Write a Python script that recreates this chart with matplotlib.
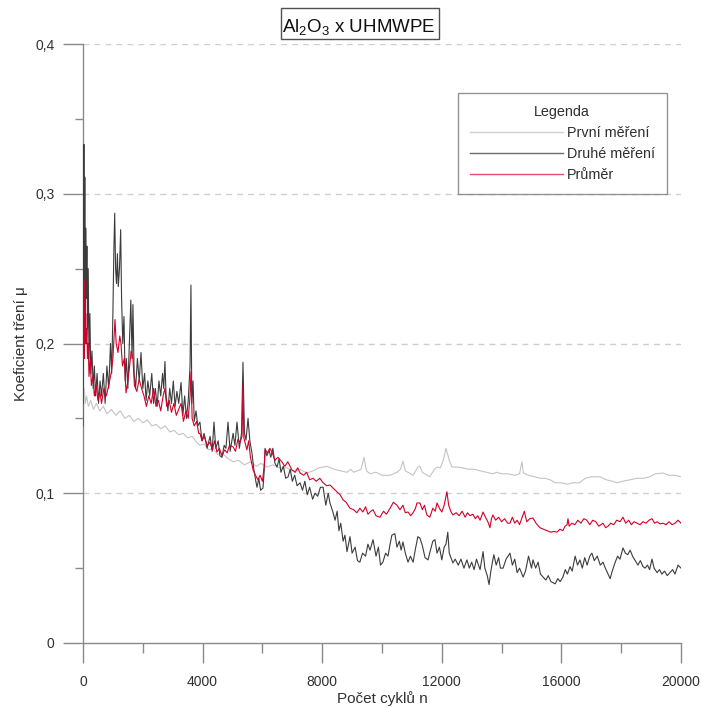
import matplotlib
matplotlib.use("Agg")
import matplotlib.pyplot as plt
from matplotlib.patches import Rectangle
from matplotlib.ticker import FixedLocator
from matplotlib.lines import Line2D

plt.rcParams['font.family'] = ['Liberation Sans', 'DejaVu Sans']
plt.rcParams['mathtext.default'] = 'regular'

title_text = "Al$_2$O$_3$ x UHMWPE"
x_label = "Počet cyklů n"
y_label = "Koeficient tření μ"
legend_title = "Legenda"
series_names = ["První měření", "Druhé měření", "Průměr"]

x_major = [0, 4000, 8000, 12000, 16000, 20000]
x_minor = [2000, 6000, 10000, 14000, 18000]
y_major = [0, 0.1, 0.2, 0.3, 0.4]
y_minor = [0.05, 0.15, 0.25, 0.35]
y_tick_labels = ["0", "0,1", "0,2", "0,3", "0,4"]

# První měření (light gray)
first_x = [0, 40, 80, 120, 180, 260, 350, 450, 560, 680, 800, 950, 1100, 1250, 1400, 1550, 1700,
           1850, 2000, 2150, 2300, 2450, 2600, 2750, 2900, 3050, 3200, 3350, 3500, 3650, 3800, 3910,
           4050, 4200, 4350, 4500, 4650, 4800, 5020, 5200, 5400, 5600, 5800, 5950, 6150, 6350, 6550,
           6820, 7000, 7250, 7490, 7700, 7900, 8160, 8400, 8600, 8830, 8950, 9050, 9300, 9400, 9480,
           9600, 9800, 10000, 10270, 10500, 10620, 10700, 10780, 11040, 11200, 11270, 11350, 11600,
           11750, 11840, 11950, 12050, 12140, 12250, 12340, 12500, 12700, 12900, 13100, 13280, 13500,
           13700, 13840, 14000, 14200, 14450, 14600, 14680, 14730, 14900, 15100, 15300, 15450, 15620,
           15800, 16000, 16190, 16400, 16600, 16800, 17000, 17290, 17500, 17700, 17860, 18050, 18300,
           18530, 18750, 18950, 19150, 19400, 19600, 19800, 20000]
first_y = [0.150, 0.170, 0.160, 0.165, 0.158, 0.162, 0.156, 0.160, 0.155, 0.158, 0.153, 0.156, 0.152,
           0.155, 0.150, 0.152, 0.148, 0.150, 0.147, 0.149, 0.145, 0.146, 0.143, 0.145, 0.141, 0.142,
           0.139, 0.140, 0.137, 0.138, 0.134, 0.132, 0.133, 0.129, 0.130, 0.126, 0.127, 0.124, 0.121,
           0.122, 0.119, 0.121, 0.118, 0.120, 0.1175, 0.119, 0.117, 0.117, 0.115, 0.116, 0.1135, 0.115,
           0.117, 0.118, 0.116, 0.115, 0.114, 0.116, 0.114, 0.116, 0.124, 0.115, 0.113, 0.114, 0.112,
           0.112, 0.114, 0.116, 0.1215, 0.115, 0.112, 0.1175, 0.118, 0.114, 0.111, 0.116, 0.1175, 0.117,
           0.122, 0.130, 0.122, 0.1175, 0.1175, 0.117, 0.116, 0.116, 0.115, 0.114, 0.113, 0.114, 0.113,
           0.113, 0.112, 0.113, 0.121, 0.1135, 0.112, 0.111, 0.110, 0.110, 0.109, 0.107, 0.107, 0.106,
           0.107, 0.107, 0.110, 0.111, 0.111, 0.109, 0.108, 0.107, 0.108, 0.109, 0.110, 0.110, 0.111,
           0.113, 0.1135, 0.112, 0.112, 0.111]

# Druhé měření (dark gray)
second_x = [0, 15, 30, 45, 60, 75, 90, 110, 130, 150, 175, 200, 230, 260, 300, 340, 380, 420, 470,
            520, 570, 620, 680, 740, 800, 860, 920, 960, 1000, 1030, 1060, 1090, 1120, 1150, 1180,
            1220, 1260, 1290, 1330, 1370, 1410, 1450, 1500, 1550, 1600, 1640, 1670, 1710, 1760, 1820,
            1880, 1940, 2000, 2060, 2110, 2170, 2230, 2300, 2360, 2420, 2480, 2540, 2600, 2660, 2700,
            2740, 2780, 2840, 2900, 2960, 3020, 3080, 3140, 3200, 3280, 3340, 3400, 3460, 3520, 3580,
            3610, 3640, 3680, 3720, 3780, 3840, 3910, 3980, 4050, 4150, 4250, 4320, 4380, 4440, 4520,
            4580, 4650, 4720, 4780, 4850, 4920, 5020, 5080, 5150, 5230, 5300, 5350, 5400, 5450, 5520,
            5580, 5650, 5720, 5780, 5820, 5880, 5940, 6020, 6060, 6090, 6150, 6220, 6280, 6350, 6420,
            6490, 6560, 6620, 6700, 6780, 6860, 6930, 7000, 7080, 7160, 7260, 7340, 7420, 7500, 7580,
            7680, 7760, 7850, 7940, 8030, 8120, 8200, 8260, 8350, 8430, 8500, 8560, 8620, 8700, 8760,
            8830, 8930, 9000, 9100, 9180, 9260, 9350, 9450, 9530, 9600, 9700, 9800, 9880, 9950, 10030,
            10120, 10200, 10270, 10330, 10430, 10500, 10580, 10640, 10700, 10780, 10870, 10950, 11040,
            11120, 11200, 11270, 11350, 11440, 11540, 11620, 11700, 11770, 11840, 11920, 12000, 12080,
            12140, 12200, 12250, 12370, 12450, 12550, 12640, 12740, 12840, 12920, 13000, 13080, 13160,
            13280, 13380, 13440, 13520, 13580, 13640, 13740, 13820, 13900, 13960, 14050, 14150, 14280,
            14360, 14440, 14520, 14600, 14720, 14800, 14900, 15000, 15050, 15140, 15220, 15300, 15390,
            15480, 15560, 15650, 15790, 15880, 15960, 16050, 16130, 16200, 16290, 16360, 16460, 16540,
            16620, 16700, 16780, 16860, 16950, 17020, 17100, 17200, 17300, 17390, 17470, 17560, 17630,
            17700, 17800, 17880, 17960, 18060, 18140, 18220, 18300, 18390, 18470, 18560, 18640, 18730,
            18800, 18880, 18950, 19030, 19100, 19200, 19280, 19360, 19450, 19540, 19630, 19720, 19800,
            19900, 20000]
second_y = [0.160, 0.250, 0.333, 0.220, 0.311, 0.200, 0.277, 0.230, 0.265, 0.210, 0.250, 0.190,
            0.220, 0.180, 0.195, 0.170, 0.185, 0.165, 0.180, 0.160, 0.175, 0.165, 0.180, 0.160, 0.185,
            0.170, 0.200, 0.180, 0.220, 0.260, 0.287, 0.250, 0.240, 0.260, 0.238, 0.250, 0.276, 0.230,
            0.200, 0.218, 0.175, 0.190, 0.170, 0.200, 0.229, 0.190, 0.226, 0.180, 0.170, 0.190, 0.175,
            0.194, 0.170, 0.180, 0.162, 0.175, 0.165, 0.180, 0.160, 0.170, 0.158, 0.175, 0.165, 0.180,
            0.170, 0.188, 0.165, 0.155, 0.170, 0.160, 0.175, 0.158, 0.168, 0.160, 0.174, 0.152, 0.165,
            0.150, 0.162, 0.185, 0.239, 0.160, 0.175, 0.148, 0.155, 0.145, 0.1475, 0.135, 0.140, 0.130,
            0.138, 0.128, 0.1475, 0.130, 0.135, 0.125, 0.124, 0.132, 0.130, 0.1475, 0.128, 0.140, 0.132,
            0.1475, 0.130, 0.140, 0.1875, 0.140, 0.1355, 0.150, 0.135, 0.127, 0.115, 0.108, 0.104, 0.110,
            0.102, 0.1035, 0.115, 0.130, 0.125, 0.129, 0.124, 0.130, 0.120, 0.1175, 0.123, 0.114, 0.118,
            0.110, 0.111, 0.116, 0.108, 0.112, 0.105, 0.107, 0.102, 0.108, 0.099, 0.104, 0.096, 0.100,
            0.098, 0.104, 0.104, 0.092, 0.100, 0.0935, 0.088, 0.082, 0.088, 0.075, 0.080, 0.068, 0.072,
            0.061, 0.071, 0.060, 0.064, 0.055, 0.054, 0.060, 0.058, 0.066, 0.062, 0.069, 0.058, 0.064,
            0.052, 0.054, 0.060, 0.058, 0.066, 0.072, 0.073, 0.064, 0.068, 0.062, 0.0675, 0.060, 0.054,
            0.058, 0.054, 0.063, 0.071, 0.070, 0.065, 0.057, 0.0555, 0.062, 0.068, 0.069, 0.060, 0.064,
            0.0555, 0.064, 0.066, 0.074, 0.060, 0.0535, 0.056, 0.052, 0.056, 0.050, 0.0555, 0.050, 0.054,
            0.049, 0.056, 0.049, 0.061, 0.050, 0.045, 0.039, 0.048, 0.059, 0.052, 0.057, 0.050, 0.050,
            0.056, 0.060, 0.052, 0.056, 0.047, 0.050, 0.044, 0.048, 0.058, 0.050, 0.0555, 0.050, 0.054,
            0.046, 0.044, 0.042, 0.045, 0.041, 0.0395, 0.043, 0.041, 0.044, 0.049, 0.046, 0.051, 0.048,
            0.058, 0.052, 0.0555, 0.050, 0.057, 0.052, 0.058, 0.060, 0.055, 0.058, 0.052, 0.054, 0.050,
            0.046, 0.043, 0.048, 0.054, 0.058, 0.056, 0.0635, 0.060, 0.059, 0.062, 0.0575, 0.055, 0.052,
            0.055, 0.051, 0.050, 0.052, 0.049, 0.056, 0.050, 0.047, 0.049, 0.046, 0.048, 0.045, 0.047,
            0.049, 0.046, 0.052, 0.050]

# Průměr (red)
mean_x = [0, 15, 30, 45, 60, 75, 90, 110, 130, 150, 175, 200, 240, 280, 330, 380, 440, 500, 560, 620,
          700, 780, 860, 940, 1000, 1040, 1070, 1110, 1170, 1230, 1270, 1320, 1380, 1440, 1500, 1560,
          1610, 1670, 1720, 1800, 1880, 1960, 2040, 2120, 2200, 2280, 2360, 2440, 2520, 2600, 2680,
          2740, 2800, 2880, 2960, 3040, 3120, 3200, 3280, 3360, 3440, 3520, 3580, 3610, 3650, 3720,
          3800, 3870, 3910, 3980, 4060, 4150, 4250, 4330, 4400, 4480, 4560, 4650, 4740, 4820, 4900,
          5020, 5100, 5180, 5250, 5320, 5350, 5380, 5480, 5540, 5600, 5690, 5770, 5850, 5920, 6000,
          6060, 6090, 6180, 6250, 6320, 6420, 6520, 6650, 6750, 6850, 6990, 7100, 7180, 7260, 7380,
          7480, 7580, 7690, 7800, 7920, 8030, 8150, 8260, 8360, 8490, 8600, 8700, 8800, 8930, 9050,
          9160, 9260, 9360, 9450, 9530, 9600, 9700, 9800, 9930, 10050, 10150, 10270, 10380, 10500,
          10600, 10700, 10780, 10870, 10960, 11040, 11120, 11170, 11270, 11350, 11420, 11500, 11600,
          11700, 11780, 11840, 11920, 12000, 12080, 12170, 12230, 12300, 12370, 12480, 12580, 12680,
          12780, 12860, 12940, 13040, 13120, 13200, 13280, 13380, 13460, 13540, 13610, 13660, 13710,
          13800, 13900, 14000, 14100, 14200, 14280, 14360, 14440, 14520, 14600, 14680, 14760, 14840,
          14940, 15050, 15150, 15280, 15400, 15520, 15650, 15750, 15850, 15950, 16050, 16120, 16190,
          16220, 16260, 16350, 16450, 16550, 16650, 16750, 16850, 16950, 17050, 17150, 17250, 17390,
          17480, 17560, 17650, 17750, 17850, 17960, 18060, 18150, 18250, 18340, 18430, 18530, 18630,
          18730, 18830, 18930, 19030, 19120, 19200, 19300, 19400, 19500, 19600, 19700, 19800, 19900,
          20000]
mean_y = [0.145, 0.200, 0.242, 0.190, 0.230, 0.205, 0.220, 0.200, 0.210, 0.190, 0.200, 0.178, 0.190,
          0.172, 0.178, 0.165, 0.172, 0.162, 0.168, 0.160, 0.170, 0.165, 0.172, 0.180, 0.190, 0.205,
          0.216, 0.200, 0.194, 0.205, 0.200, 0.185, 0.190, 0.167, 0.175, 0.185, 0.195, 0.190, 0.172,
          0.168, 0.176, 0.170, 0.165, 0.158, 0.165, 0.160, 0.170, 0.158, 0.162, 0.155, 0.165, 0.170,
          0.158, 0.162, 0.154, 0.160, 0.152, 0.156, 0.160, 0.148, 0.155, 0.150, 0.165, 0.181, 0.150,
          0.145, 0.148, 0.140, 0.140, 0.135, 0.138, 0.132, 0.134, 0.129, 0.135, 0.1275, 0.130, 0.125,
          0.129, 0.127, 0.132, 0.131, 0.128, 0.136, 0.134, 0.138, 0.172, 0.137, 0.129, 0.135, 0.124,
          0.1155, 0.112, 0.109, 0.112, 0.108, 0.118, 0.129, 0.127, 0.130, 0.1275, 0.122, 0.124, 0.121,
          0.118, 0.121, 0.1155, 0.114, 0.117, 0.1135, 0.112, 0.114, 0.109, 0.110, 0.108, 0.110, 0.107,
          0.105, 0.1055, 0.1035, 0.101, 0.099, 0.0955, 0.094, 0.090, 0.089, 0.087, 0.090, 0.0875,
          0.091, 0.086, 0.0875, 0.089, 0.085, 0.084, 0.088, 0.086, 0.090, 0.094, 0.092, 0.089, 0.092,
          0.087, 0.0875, 0.085, 0.087, 0.090, 0.0935, 0.0935, 0.089, 0.092, 0.0855, 0.084, 0.090,
          0.088, 0.0935, 0.090, 0.0875, 0.092, 0.101, 0.092, 0.088, 0.0855, 0.087, 0.085, 0.088, 0.084,
          0.087, 0.085, 0.086, 0.083, 0.085, 0.082, 0.0875, 0.084, 0.081, 0.077, 0.083, 0.0855, 0.082,
          0.084, 0.081, 0.083, 0.080, 0.080, 0.084, 0.080, 0.082, 0.079, 0.0835, 0.088, 0.081, 0.083,
          0.0835, 0.080, 0.077, 0.076, 0.075, 0.074, 0.0745, 0.074, 0.076, 0.075, 0.078, 0.079, 0.083,
          0.078, 0.080, 0.079, 0.082, 0.080, 0.083, 0.082, 0.079, 0.082, 0.081, 0.078, 0.080, 0.077,
          0.078, 0.080, 0.079, 0.082, 0.081, 0.084, 0.080, 0.082, 0.079, 0.081, 0.080, 0.079, 0.081,
          0.080, 0.082, 0.083, 0.080, 0.081, 0.0795, 0.080, 0.079, 0.081, 0.079, 0.080, 0.082, 0.080]

colors = ["#c4c4c4", "#3c3c3c", "#d4002a"]
legend_colors = ["#d0d0d0", "#6e6e6e", "#e2506a"]
axis_color = "#8a8a8a"
text_color = "#303030"

fig = plt.figure(figsize=(7.02, 7.07), dpi=100)
W, H = 702, 707
ax = fig.add_axes([83 / W, 1 - 643 / H, (681 - 83) / W, (643 - 44) / H])

ax.plot(first_x, first_y, color=colors[0], lw=0.8, zorder=3)
ax.plot(second_x, second_y, color=colors[1], lw=0.8, zorder=4)
ax.plot(mean_x, mean_y, color=colors[2], lw=0.8, zorder=5)

ax.set_xlim(0, 20000)
ax.set_ylim(0, 0.4)

for s in ["top", "right"]:
    ax.spines[s].set_visible(False)
for s in ["left", "bottom"]:
    ax.spines[s].set_color(axis_color)
    ax.spines[s].set_linewidth(1.0)

ax.xaxis.set_major_locator(FixedLocator(x_major))
ax.xaxis.set_minor_locator(FixedLocator(x_minor))
ax.yaxis.set_major_locator(FixedLocator(y_major))
ax.yaxis.set_minor_locator(FixedLocator(y_minor))
ax.set_xticklabels([str(v) for v in x_major])
ax.set_yticklabels(y_tick_labels)

ax.tick_params(axis="x", which="major", direction="out", length=14.4, width=1.0,
               color=axis_color, labelsize=10, labelcolor=text_color, pad=9)
ax.tick_params(axis="x", which="minor", direction="out", length=7, width=1.0, color=axis_color)
ax.tick_params(axis="y", which="major", direction="out", length=14.4, width=1.0,
               color=axis_color, labelsize=10, labelcolor=text_color, pad=6)
ax.tick_params(axis="y", which="minor", direction="out", length=5.5, width=1.0, color=axis_color)

for yv in y_major[1:]:
    ax.axhline(yv, color="#cfcfcf", lw=1.0, dashes=(4.3, 3.6), zorder=1)

ax.set_xlabel(x_label, fontsize=11, color=text_color, labelpad=1)
ax.set_ylabel(y_label, fontsize=11, color=text_color, labelpad=5)

# title with box
fig.text(359 / W, 1 - 32 / H, title_text, ha="center", va="baseline", fontsize=13.5, color="#101010")
fig.patches.append(Rectangle((281 / W, 1 - 39 / H), 158 / W, 31 / H, transform=fig.transFigure,
                             fill=False, edgecolor="#505050", lw=1.0))

handles = [Line2D([], [], color=c, lw=1.0) for c in legend_colors]
leg = ax.legend(handles, series_names, title=legend_title, loc="upper left",
                bbox_to_anchor=(458 / W, 1 - 93 / H), bbox_transform=fig.transFigure,
                fontsize=10.4, title_fontsize=10.4, frameon=True, fancybox=False,
                handlelength=6.5, handletextpad=0.25, labelspacing=0.5, borderpad=0.8,
                borderaxespad=0, alignment="center")
leg.get_frame().set_edgecolor("#7a7a7a")
leg.get_frame().set_linewidth(1.0)
for t in leg.get_texts():
    t.set_color(text_color)
leg.get_title().set_color(text_color)

fig.savefig("out.png", dpi=100)
